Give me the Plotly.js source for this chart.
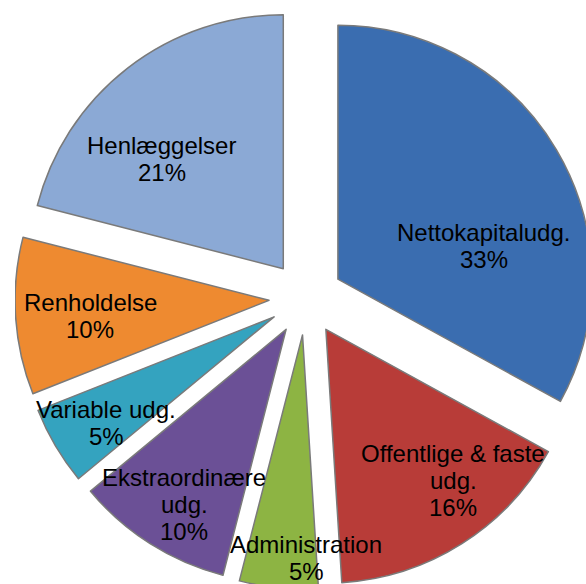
<!DOCTYPE html>
<html><head><meta charset="utf-8">
<script src="https://cdn.plot.ly/plotly-3.0.1.min.js"></script>
<style>
html,body{margin:0;padding:0;overflow:hidden;background:#fff;width:586px;height:584px}
#chart{position:absolute;left:15px;top:7px;width:582px;height:582px}
</style>
</head><body><div id="chart"></div>
<script>
// Data
const categories = ["Nettokapitaludg.", "Offentlige & faste udg.", "Administration", "Ekstraordinære udg.", "Variable udg.", "Renholdelse", "Henlæggelser"];
const shares = [33, 16, 5, 10, 5, 10, 21];
const labelLines = [["Nettokapitaludg."], ["Offentlige & faste", "udg."], ["Administration"], ["Ekstraordinære", "udg."], ["Variable udg."], ["Renholdelse"], ["Henlæggelser"]];

// Styles
const colors = ["#3a6db0", "#b83c38", "#8db443", "#6b5096", "#34a3bf", "#ee8a30", "#8ba9d5"];
const pullFrac = 0.146;
const labelAngleOffset = [14.3, -6.4, -5.4, -1.8, -1.4, -1.2, -8.2];
const labelRadiusFrac = [0.73, 0.924, 1.022, 0.943, 0.928, 0.853, 0.79];

const W = 582, H = 582;
const r = Math.min(W, H) / 2 / (1 + pullFrac);
const cx = W / 2, cy = H / 2;
const total = shares.reduce((a, b) => a + b, 0);
const lineGap = 27;

const annotations = [];
let acc = 0;
shares.forEach((v, i) => {
  const mid = (acc + v / 2) / total * 360;
  acc += v;
  const ang = (mid + labelAngleOffset[i]) * Math.PI / 180;
  const px = cx + Math.sin(ang) * r * labelRadiusFrac[i];
  const py = cy - Math.cos(ang) * r * labelRadiusFrac[i];
  const lines = labelLines[i].concat([Math.round(v / total * 100) + "%"]);
  const n = lines.length;
  lines.forEach((t, j) => {
    annotations.push({
      text: t, showarrow: false, xref: "paper", yref: "paper",
      x: px / W, y: 1 - py / H, xanchor: "center", yanchor: "middle",
      yshift: ((n - 1) / 2 - j) * lineGap,
      font: {family: "Liberation Sans, Arial, sans-serif", size: 24, color: "#000"}
    });
  });
});

const data = [{
  type: "pie",
  labels: categories,
  values: shares,
  sort: false,
  direction: "clockwise",
  rotation: 0,
  pull: shares.map(() => pullFrac),
  textinfo: "none",
  hoverinfo: "none",
  marker: {colors: colors, line: {color: "#7a7a7a", width: 1.5}},
  domain: {x: [0, 1], y: [0, 1]}
}];

const layout = {
  width: W, height: H,
  margin: {l: 0, r: 0, t: 0, b: 0},
  paper_bgcolor: "rgba(0,0,0,0)",
  plot_bgcolor: "rgba(0,0,0,0)",
  showlegend: false,
  annotations: annotations
};

Plotly.newPlot("chart", data, layout, {displayModeBar: false, staticPlot: true});
</script>
</body></html>
